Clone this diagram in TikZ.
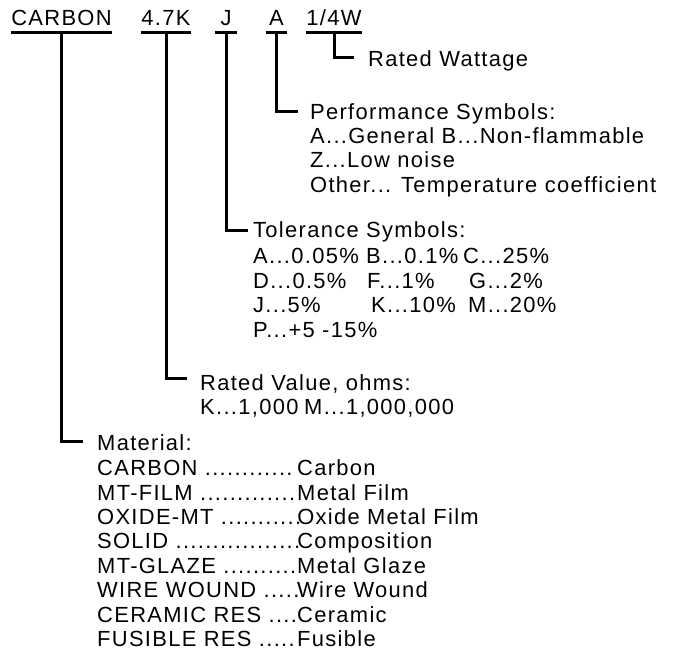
\documentclass[tikz,border=0pt]{standalone}
\usepackage{fontspec}
\setmainfont{Liberation Sans}[LetterSpace=6]
\usepackage{tikz}

\begin{document}
\begin{tikzpicture}[x=1bp,y=-1bp,
    every node/.style={font=\fontsize{22}{24.5}\selectfont},
    code/.style={inner sep=0pt,anchor=base,text depth=0pt},
    desc/.style={inner sep=0pt,anchor=base west,align=left},
    lead/.style={line width=3bp}]
    \useasboundingbox (0,0) rectangle (685,654);

    \node[code,minimum width=95bp] at (61.5,26) (matCode) {CARBON};
    \node[code,minimum width=46bp] at (166,26) (valCode) {4.7K};
    \node[code,minimum width=22bp] at (226,26) (tolCode) {J};
    \node[code,minimum width=21bp] at (276.5,26) (perfCode) {A};
    \node[code,minimum width=54bp] at (334,26) (wattCode) {1/4W};

    \draw[lead] ([yshift=-6.5bp]matCode.base west) -- ([yshift=-6.5bp]matCode.base east);
    \draw[lead] ([yshift=-6.5bp]valCode.base west) -- ([yshift=-6.5bp]valCode.base east);
    \draw[lead] ([yshift=-6.5bp]tolCode.base west) -- ([yshift=-6.5bp]tolCode.base east);
    \draw[lead] ([yshift=-6.5bp]perfCode.base west) -- ([yshift=-6.5bp]perfCode.base east);
    \draw[lead] ([yshift=-6.5bp]wattCode.base west) -- ([yshift=-6.5bp]wattCode.base east);

    % headings
    \node[desc] at (368,67) (wattHead) {Rated Wattage};
    \node[desc] at (310,120) (perfHead) {Performance Symbols:};
    \node[desc] at (253,237) (tolHead) {Tolerance Symbols:};
    \node[desc] at (200,390) (valHead) {Rated Value, ohms:};
    \node[desc] at (97,450) (matHead) {Material:};

    % lists, placed by their last line
    \node[desc] at (310,192) (perfList) {A...General B...Non-flammable\\
        Z...Low noise\\
        Other... Temperature coefficient};
    \node[desc] at (253,337) (tolList) {%
        \makebox[113bp][l]{A...0.05\%}\makebox[97bp][l]{B...0.1\%}C...25\%\\
        \makebox[114bp][l]{D...0.5\%}\makebox[102bp][l]{F...1\%}G...2\%\\
        \makebox[118bp][l]{J...5\%}\makebox[97bp][l]{K...10\%}M...20\%\\
        P...+5 -15\%};
    \node[desc] at (200,414) (valList) {\makebox[104bp][l]{K...1,000}M...1,000,000};
    \node[desc] at (97,646.5) (matList) {%
        \makebox[200bp][l]{CARBON ............}Carbon\\
        \makebox[200bp][l]{MT-FILM .............}Metal Film\\
        \makebox[200bp][l]{OXIDE-MT ...........}Oxide Metal Film\\
        \makebox[200bp][l]{SOLID .................}Composition\\
        \makebox[200bp][l]{MT-GLAZE ..........}Metal Glaze\\
        \makebox[200bp][l]{WIRE WOUND .....}Wire Wound\\
        \makebox[200bp][l]{CERAMIC RES ....}Ceramic\\
        \makebox[200bp][l]{FUSIBLE RES .....}Fusible};

    \draw[lead] ([yshift=-6.5bp]wattCode.base) |- ([xshift=-14bp,yshift=9bp]wattHead.base west);
    \draw[lead] ([yshift=-6.5bp]perfCode.base) |- ([xshift=-12bp,yshift=8.3bp]perfHead.base west);
    \draw[lead] ([yshift=-6.5bp]tolCode.base) |- ([xshift=-5bp,yshift=7bp]tolHead.base west);
    \draw[lead] ([yshift=-6.5bp]valCode.base) |- ([xshift=-13bp,yshift=12bp]valHead.base west);
    \draw[lead] ([yshift=-6.5bp]matCode.base) |- ([xshift=-14bp,yshift=9bp]matHead.base west);
  \end{tikzpicture}
\end{document}
